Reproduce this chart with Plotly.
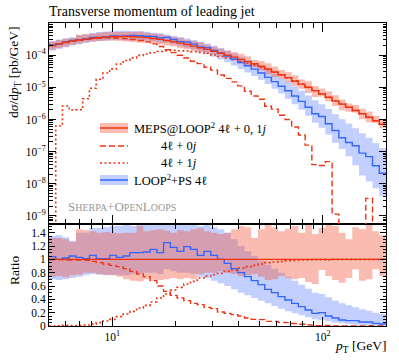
import numpy as np
import plotly.graph_objects as go

# bin edges: 50 log bins between 5 and 200 GeV
edges = np.geomspace(5.0, 200.0, 51)

# MEPS@LOOP2 4l+0,1j central value [pb/GeV]
meps = [2.0e-4, 2.24e-4, 2.51e-4, 2.75e-4, 2.95e-4, 3.16e-4, 3.35e-4, 3.55e-4, 3.7e-4, 3.75e-4,
        3.8e-4, 3.8e-4, 3.75e-4, 3.65e-4, 3.5e-4, 3.3e-4, 3.1e-4, 2.85e-4, 2.6e-4, 2.36e-4,
        2.14e-4, 1.91e-4, 1.70e-4, 1.51e-4, 1.32e-4, 1.15e-4, 1.0e-4, 8.7e-5, 7.4e-5, 6.3e-5,
        5.4e-5, 4.5e-5, 3.7e-5, 3.0e-5, 2.45e-5, 2.0e-5, 1.58e-5, 1.26e-5, 1.0e-5, 7.9e-6,
        6.2e-6, 4.9e-6, 3.8e-6, 3.0e-6, 2.4e-6, 1.9e-6, 1.5e-6, 1.17e-6, 9.1e-7, 7.1e-7]
meps_lo = [0.74, 0.75, 0.73, 0.76, 0.77, 0.80, 0.80, 0.78, 0.77, 0.76,
           0.74, 0.70, 0.68, 0.67, 0.70, 0.68, 0.69, 0.70, 0.72, 0.70,
           0.72, 0.70, 0.78, 0.80, 0.80, 0.82, 0.80, 0.78, 0.75, 0.76,
           0.78, 0.74, 0.69, 0.70, 0.75, 0.72, 0.70, 0.72, 0.66, 0.63,
           0.84, 0.75, 0.69, 0.65, 0.72, 0.85, 0.68, 0.70, 0.85, 0.75]
meps_hi = [1.32, 1.32, 1.30, 1.26, 1.45, 1.44, 1.42, 1.40, 1.41, 1.40,
           1.39, 1.40, 1.40, 1.50, 1.42, 1.44, 1.45, 1.43, 1.40, 1.44,
           1.42, 1.45, 1.47, 1.42, 1.40, 1.38, 1.40, 1.45, 1.50, 1.48,
           1.32, 1.45, 1.52, 1.48, 1.42, 1.46, 1.50, 1.40, 1.55, 1.38,
           1.47, 1.55, 1.50, 1.40, 1.30, 1.48, 1.45, 1.52, 1.42, 1.36]

# components, as ratio to MEPS
ratio_0j = [0.998, 0.995, 0.99, 0.99, 0.99, 0.985, 0.97, 0.95, 0.93, 0.91,
            0.89, 0.86, 0.82, 0.78, 0.74, 0.68, 0.60, 0.52, 0.46, 0.42,
            0.38, 0.34, 0.32, 0.28, 0.26, 0.21, 0.19, 0.17, 0.15, 0.12,
            0.10, 0.095, 0.07, 0.07, 0.055, 0.05, 0.037, 0.026, 0.016, 0.005,
            0.006, 0.01, 0.0003, 0, 0, 0, 0, 0.003, 0, 0]
ratio_1j = [0, 0.0028, 0.0105, 0.0072, 0.0068, 0.014, 0.028, 0.05, 0.075, 0.10,
            0.14, 0.18, 0.22, 0.27, 0.31, 0.36, 0.42, 0.48, 0.54, 0.58,
            0.63, 0.67, 0.72, 0.75, 0.77, 0.79, 0.82, 0.84, 0.87, 0.89,
            0.91, 0.93, 0.95, 0.96, 0.97, 0.98, 0.985, 0.99, 0.99, 0.995,
            0.995, 0.99, 1.0, 1.0, 1.0, 1.0, 1.0, 1.0, 1.0, 1.0]

# LOOP2+PS 4l, as ratio to MEPS
ratio_loop = [1.04, 1.00, 1.02, 1.05, 1.03, 1.01, 1.06, 1.01, 1.01, 1.06,
              1.03, 1.05, 1.10, 1.10, 1.11, 1.15, 1.10, 1.25, 1.18, 1.12,
              1.19, 1.15, 1.06, 1.12, 1.06, 1.00, 0.94, 0.86, 0.80, 0.74,
              0.68, 0.62, 0.55, 0.50, 0.44, 0.39, 0.34, 0.29, 0.24, 0.19,
              0.20, 0.15, 0.12, 0.09, 0.08, 0.08, 0.06, 0.06, 0.04, 0.03]
loop_lo = [0.70, 0.69, 0.70, 0.72, 0.74, 0.76, 0.78, 0.77, 0.76, 0.77,
           0.76, 0.76, 0.78, 0.78, 0.80, 0.80, 0.78, 0.85, 0.82, 0.80,
           0.80, 0.78, 0.74, 0.72, 0.68, 0.64, 0.60, 0.55, 0.50, 0.46,
           0.42, 0.38, 0.34, 0.30, 0.26, 0.22, 0.19, 0.16, 0.13, 0.10,
           0.09, 0.07, 0.05, 0.04, 0.03, 0.02, 0.012, 0.01, 0.008, 0.006]
loop_hi = [1.35, 1.36, 1.33, 1.28, 1.40, 1.40, 1.47, 1.47, 1.48, 1.50,
           1.50, 1.52, 1.50, 1.53, 1.53, 1.52, 1.55, 1.55, 1.55, 1.55,
           1.55, 1.55, 1.50, 1.52, 1.48, 1.45, 1.40, 1.30, 1.20, 1.12,
           1.05, 0.98, 0.92, 0.86, 0.80, 0.74, 0.68, 0.62, 0.56, 0.50,
           0.48, 0.43, 0.38, 0.34, 0.31, 0.28, 0.25, 0.23, 0.20, 0.18]

RED = "#EE3311"
BLUE = "#3366FF"
RED_BAND = "rgba(242, 80, 50, 0.38)"
BLUE_BAND = "rgba(90, 125, 255, 0.36)"
FONT = "Liberation Serif"

# plot area in pixels (399x360 canvas)
L, R, T, B = 49, 386, 23, 326
SPLIT = 224
ratio_top = (B - SPLIT) / (B - T)


def steps(vals, floor=None):
    v = np.asarray(vals, dtype=float)
    if floor is not None:
        v = np.where(v > 0, v, floor)
    return np.append(v, v[-1])


def px(x):
    return (x - L) / (R - L)


def py(y):
    return (B - y) / (B - T)


meps_a = np.array(meps)
fig = go.Figure()


def band(lo, hi, color, xa, ya):
    fig.add_trace(go.Scatter(x=edges, y=steps(lo), mode="lines", line_shape="hv",
                             line_width=0, xaxis=xa, yaxis=ya, showlegend=False,
                             hoverinfo="skip"))
    fig.add_trace(go.Scatter(x=edges, y=steps(hi), mode="lines", line_shape="hv",
                             line_width=0, fill="tonexty", fillcolor=color,
                             xaxis=xa, yaxis=ya, showlegend=False, hoverinfo="skip"))


def line(vals, color, dash, xa, ya, width=1.4, floor=None):
    fig.add_trace(go.Scatter(x=edges, y=steps(vals, floor), mode="lines", line_shape="hv",
                             line=dict(color=color, width=width, dash=dash),
                             xaxis=xa, yaxis=ya, showlegend=False))


# main panel
band(meps_a * np.array(loop_lo), meps_a * np.array(loop_hi), BLUE_BAND, "x2", "y2")
band(meps_a * np.array(meps_lo), meps_a * np.array(meps_hi), RED_BAND, "x2", "y2")
line(meps_a * np.array(ratio_0j), RED, "6px,3px", "x2", "y2", floor=1e-14)
line(meps_a * np.array(ratio_1j), RED, "2px,2.5px", "x2", "y2", width=1.6, floor=1e-14)
line(meps_a * np.array(ratio_loop), BLUE, "solid", "x2", "y2")
line(meps_a, RED, "solid", "x2", "y2")

# ratio panel
band(loop_lo, loop_hi, BLUE_BAND, "x", "y")
band(meps_lo, meps_hi, RED_BAND, "x", "y")
line(ratio_0j, RED, "6px,3px", "x", "y")
line(ratio_1j, RED, "2px,2.5px", "x", "y", width=1.6)
line(ratio_loop, BLUE, "solid", "x", "y")
line(np.ones(50), RED, "solid", "x", "y")

x_minor = [6, 7, 8, 9, 20, 30, 40, 50, 60, 70, 80, 90]
y_major = [1e-9, 1e-8, 1e-7, 1e-6, 1e-5, 1e-4]
y_labels = ["10<sup>\u2212%d</sup>" % k for k in range(9, 3, -1)]
y_minor = [m * 10.0 ** e for e in range(-10, -3) for m in range(2, 10)]

axis_common = dict(showline=True, linecolor="black", linewidth=1, mirror="allticks",
                   ticks="inside", tickcolor="black", showgrid=False, zeroline=False,
                   automargin=False,
                   tickfont=dict(family=FONT, size=11.5, color="black"))

fig.update_layout(
    width=399, height=360,
    margin=dict(l=L, r=399 - R, t=T, b=360 - B),
    plot_bgcolor="white", paper_bgcolor="white",
    font=dict(family=FONT, color="black"),
    xaxis=dict(type="log", range=[np.log10(5), np.log10(200)], domain=[0, 1], anchor="y",
               tickvals=[10, 100], ticktext=["10<sup>1</sup>", "10<sup>2</sup>"], ticklen=9,
               minor=dict(tickvals=x_minor, ticklen=5, ticks="inside", tickcolor="black"),
               **axis_common),
    xaxis2=dict(type="log", range=[np.log10(5), np.log10(200)], domain=[0, 1], anchor="y2",
                matches="x", tickvals=[10, 100], showticklabels=False, ticklen=9,
                minor=dict(tickvals=x_minor, ticklen=5, ticks="inside", tickcolor="black"),
                **axis_common),
    yaxis=dict(range=[0, 1.53], domain=[0, ratio_top], anchor="x",
               tickvals=[0, 0.2, 0.4, 0.6, 0.8, 1, 1.2, 1.4],
               ticktext=["0", "0.2", "0.4", "0.6", "0.8", "1", "1.2", "1.4"], ticklen=6,
               minor=dict(dtick=0.05, ticklen=3, ticks="inside", tickcolor="black"),
               **axis_common),
    yaxis2=dict(type="log", range=[-9.25, -3.0], domain=[ratio_top, 1], anchor="x2",
                tickvals=y_major, ticktext=y_labels, ticklen=7,
                minor=dict(tickvals=y_minor, ticklen=3.5, ticks="inside", tickcolor="black"),
                **axis_common),
)

ann = []
ann.append(dict(text="Transverse momentum of leading jet", x=px(47), y=py(12), xanchor="left",
                yanchor="middle", font=dict(size=14)))
ann.append(dict(text="d<i>\u03c3</i>/d<i>p</i><sub>T</sub> [pb/GeV]", x=px(14), y=py(24),
                xanchor="center", yanchor="top", textangle=-90, font=dict(size=13.5)))
ann.append(dict(text="Ratio", x=px(14), y=py(271), xanchor="center", yanchor="middle",
                textangle=-90, font=dict(size=13.5)))
ann.append(dict(text="<i>p</i><sub>T</sub> [GeV]", x=px(388), y=py(346), xanchor="right",
                yanchor="middle", font=dict(size=13.5)))
ann.append(dict(text="S<span style='font-size:10px'>HERPA</span>+O<span style='font-size:10px'>PEN</span>"
                     "L<span style='font-size:10px'>OOPS</span>",
                x=px(66), y=py(206), xanchor="left", yanchor="middle",
                font=dict(size=13, color="#999999")))

legend_rows = [
    (128, "MEPS@LOOP<sup>2</sup> 4\u2113 + 0, 1<i>j</i>", 132),
    (146, "4\u2113 + 0<i>j</i>", 159),
    (163, "4\u2113 + 1<i>j</i>", 159),
    (180, "LOOP<sup>2</sup>+PS 4\u2113", 132),
]
for y, txt, x0 in legend_rows:
    ann.append(dict(text=txt, x=px(x0), y=py(y), xanchor="left", yanchor="middle",
                    font=dict(size=12.5)))
for a in ann:
    a.update(xref="paper", yref="paper", showarrow=False)
fig.update_layout(annotations=ann)

shapes = []
for y, fill, col in [(128, RED_BAND, RED), (180, BLUE_BAND, BLUE)]:
    shapes.append(dict(type="rect", x0=px(100), x1=px(128), y0=py(y + 5), y1=py(y - 5),
                       fillcolor=fill, line_width=0))
    shapes.append(dict(type="line", x0=px(100), x1=px(128), y0=py(y), y1=py(y),
                       line=dict(color=col, width=1.5)))
shapes.append(dict(type="line", x0=px(100), x1=px(128), y0=py(146), y1=py(146),
                   line=dict(color=RED, width=1.4, dash="6px,3px")))
shapes.append(dict(type="line", x0=px(100), x1=px(128), y0=py(163), y1=py(163),
                   line=dict(color=RED, width=1.6, dash="2px,2.5px")))
for s in shapes:
    s.update(xref="paper", yref="paper")
fig.update_layout(shapes=shapes)

# the page body has a default 8px margin; drop it so the figure sits at (0, 0)
fig.write_html("out.html", config={"displayModeBar": False},
               post_script="document.body.style.margin = '0';")
